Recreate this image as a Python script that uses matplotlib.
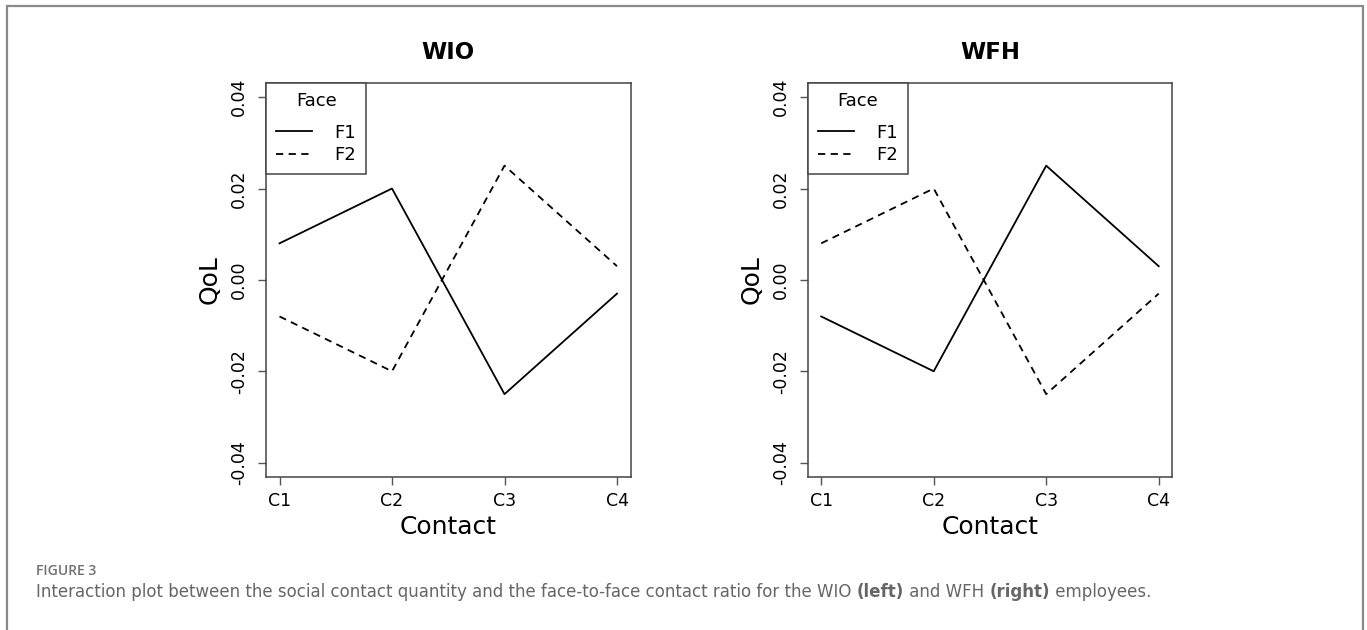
import matplotlib
matplotlib.use("Agg")
import matplotlib.pyplot as plt
from matplotlib.patches import Rectangle

contacts = ["C1", "C2", "C3", "C4"]
faces = ["F1", "F2"]
wio_f1 = [0.008, 0.020, -0.025, -0.003]
wio_f2 = [-0.008, -0.020, 0.025, 0.003]
wfh_f1 = [-0.008, -0.020, 0.025, 0.003]
wfh_f2 = [0.008, 0.020, -0.025, -0.003]
yticks = [-0.04, -0.02, 0.00, 0.02, 0.04]
ytick_labels = ["-0.04", "-0.02", "0.00", "0.02", "0.04"]
panels = [("WIO", wio_f1, wio_f2), ("WFH", wfh_f1, wfh_f2)]

W, H = 1367, 630
fig = plt.figure(figsize=(W / 100, H / 100), dpi=100)
plt.rcParams["font.family"] = ["DejaVu Sans"]

# figure frame
fig.patches.append(Rectangle((7 / W, -0.05), (1363 - 7) / W, 1.05 - 5.7 / H,
                             transform=fig.transFigure, fill=False,
                             edgecolor="#8a8a8a", linewidth=1.6))

ax_lefts = [266, 807.7]
ax_w = 364.5
ax_top, ax_bot = 82.5, 477.3

x = list(range(1, len(contacts) + 1))
for (title, f1, f2), left in zip(panels, ax_lefts):
    ax = fig.add_axes([left / W, 1 - ax_bot / H, ax_w / W, (ax_bot - ax_top) / H])
    ax.plot(x, f1, color="black", lw=1.3, ls="-", label=faces[0])
    ax.plot(x, f2, color="black", lw=1.3, ls=(0, (4, 3)), label=faces[1])
    ax.set_xlim(0.88, 4.12)
    ax.set_ylim(-0.0432, 0.0432)
    ax.set_xticks(x)
    ax.set_xticklabels(contacts, fontsize=12.5)
    ax.set_yticks(yticks)
    ax.set_yticklabels(ytick_labels, fontsize=12.5, rotation=90, va="center")
    ax.tick_params(length=6, width=1, color="#555555", pad=4.5)
    ax.tick_params(axis="y", pad=7)
    for s in ax.spines.values():
        s.set_color("#444444")
        s.set_linewidth(1.1)
    ax.set_ylabel("QoL", fontsize=18)
    ax.yaxis.set_label_coords(-0.121, 0.5)
    ax.set_xlabel("Contact", fontsize=18, va="center")
    ax.xaxis.set_label_coords(0.5, -0.126)
    ax.text(0.5, 1.077, title, transform=ax.transAxes, ha="center", va="center",
            fontsize=16.5, fontweight="bold")
    leg = ax.legend(title="Face", loc="upper left", bbox_to_anchor=(0, 1),
                    borderaxespad=0, fontsize=13, title_fontsize=13,
                    fancybox=False, framealpha=1, edgecolor="#444444",
                    handlelength=2.0, handletextpad=1.25, labelspacing=0.25,
                    borderpad=0.55, alignment="center")
    leg.get_frame().set_linewidth(1.1)
    leg._legend_box.sep = 9.5

# caption
cap_color = "#666666"
cap_font = "DejaVu Sans"
fig.text(36 / W, 1 - 571 / H, "FIGURE 3", fontsize=10, color="#707070",
         family="Open Sans", fontweight="semibold", va="center")
parts = [("Interaction plot between the social contact quantity and the face-to-face contact ratio for the WIO ", "normal"),
         ("(left)", "bold"), (" and WFH ", "normal"), ("(right)", "bold"), (" employees.", "normal")]
cap_size = 12.0
texts = [fig.text(36 / W, 1 - 597.3 / H, parts[0][0], fontsize=cap_size, color=cap_color,
                  family=cap_font, va="baseline")]
for txt, wt in parts[1:]:
    texts.append(fig.text(0, 1 - 597.3 / H, txt, fontsize=cap_size, color=cap_color,
                          family=cap_font, fontweight=wt, va="baseline"))

fig.canvas.draw()
r = fig.canvas.get_renderer()
for i in range(1, len(texts)):
    bb = texts[i - 1].get_window_extent(r)
    texts[i].set_position((bb.x1 / W, 1 - 597.3 / H))
    fig.canvas.draw()

fig.savefig("out.png", dpi=100)
